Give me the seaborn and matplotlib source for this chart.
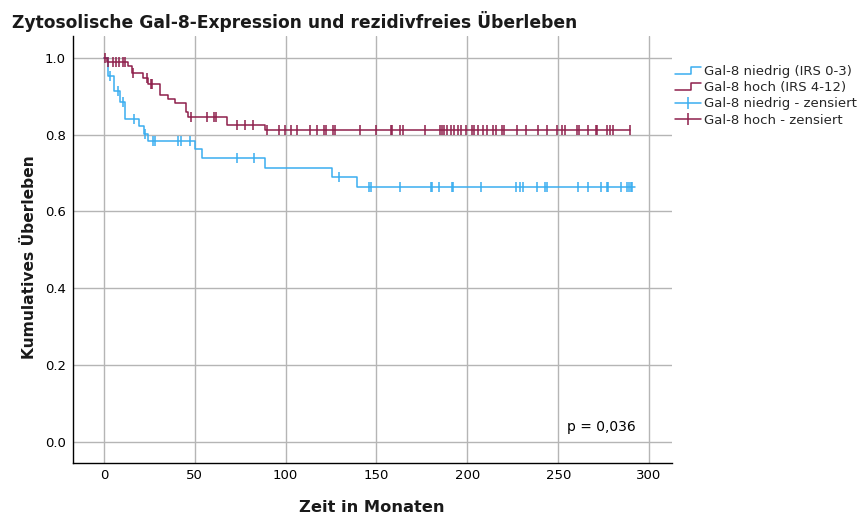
import numpy as np
import pandas as pd
import matplotlib
matplotlib.use("Agg")
import matplotlib.pyplot as plt
import seaborn as sns
from matplotlib.lines import Line2D
from matplotlib.legend_handler import HandlerBase

# ---- data ----
low_times = [0, 2.3, 5.5, 8.8, 11.6, 19.4, 22.2, 24.4, 50.1, 54.1, 88.6, 125.3, 139.0, 292.2]
low_surv = [1.0, 0.952, 0.915, 0.885, 0.841, 0.823, 0.802, 0.784, 0.762, 0.739, 0.713, 0.689, 0.663, 0.663]
low_cens = [3.3, 7.5, 10.6, 16.7, 22.8, 27.2, 28.1, 40.9, 42.4, 47.3, 73.0, 82.7, 129.3,
            146.0, 146.8, 163.0, 180.0, 180.7, 184.5, 191.7, 192.2, 207.5, 227.0, 229.0,
            230.8, 238.2, 242.7, 244.0, 260.7, 266.5, 273.5, 276.6, 277.5, 284.5, 287.6,
            288.9, 289.8, 290.4]

high_times = [0, 1.5, 13.0, 15.2, 21.6, 24.4, 30.8, 35.4, 39.4, 45.1, 46.4, 67.5, 88.6, 289.5]
high_surv = [1.0, 0.989, 0.980, 0.961, 0.948, 0.932, 0.904, 0.893, 0.882, 0.860, 0.847, 0.824, 0.811, 0.811]
high_cens = [0.5, 2.5, 5.1, 6.6, 8.3, 10.6, 11.6, 16.1, 23.5, 25.9, 26.7, 47.9, 56.5, 60.7,
             61.6, 73.0, 77.6, 81.8, 89.5, 96.5, 99.6, 102.7, 106.4, 113.4, 117.0, 121.2,
             122.2, 126.2, 127.1, 140.9, 149.7, 157.8, 158.4, 162.9, 164.4, 176.7, 184.9,
             185.8, 187.1, 189.0, 190.8, 192.6, 195.0, 196.6, 199.4, 202.4, 203.6, 206.0,
             208.7, 211.0, 214.3, 215.7, 218.9, 220.3, 227.1, 232.1, 239.0, 244.0, 249.1,
             251.9, 253.7, 260.2, 261.6, 266.5, 270.8, 271.5, 276.7, 278.5, 280.3, 289.5]

labels = ["Gal-8 niedrig (IRS 0-3)", "Gal-8 hoch (IRS 4-12)",
          "Gal-8 niedrig - zensiert", "Gal-8 hoch - zensiert"]
x_ticks = [0, 50, 100, 150, 200, 250, 300]
y_ticks = [0.0, 0.2, 0.4, 0.6, 0.8, 1.0]
title = "Zytosolische Gal-8-Expression und rezidivfreies Überleben"
x_label = "Zeit in Monaten"
y_label = "Kumulatives Überleben"
p_text = "p = 0,036"

BLUE = "#3aaef0"
RED = "#8e1f4b"

sns.set_theme(style="white")
plt.rcParams["font.family"] = ["DejaVu Sans"]

fig = plt.figure(figsize=(8.68, 5.18), dpi=100)
ax = fig.add_axes([73/868, 1-463/518, (672-73)/868, (463-36)/518])


def level_at(times, surv, t):
    idx = np.searchsorted(np.asarray(times), t, side="right") - 1
    return np.asarray(surv)[idx]


for times, surv, cens, col in [(low_times, low_surv, low_cens, BLUE),
                               (high_times, high_surv, high_cens, RED)]:
    df = pd.DataFrame({"t": times, "s": surv})
    sns.lineplot(data=df, x="t", y="s", drawstyle="steps-post", estimator=None,
                 color=col, lw=1.1, ax=ax, zorder=3)
    dc = pd.DataFrame({"t": cens, "s": [level_at(times, surv, c) for c in cens]})
    sns.lineplot(data=dc, x="t", y="s", estimator=None, sort=False, color=col,
                 linestyle="none", marker="|", markersize=6.5, markeredgewidth=1.1,
                 markeredgecolor=col, markerfacecolor=col, ax=ax, zorder=4)

ax.set_xlim(-17, 312.6)
ax.set_ylim(-0.055, 1.057)
ax.set_xticks(x_ticks)
ax.set_xticklabels([str(v) for v in x_ticks])
ax.set_yticks(y_ticks)
ax.set_yticklabels([f"{v:.1f}" for v in y_ticks])
ax.grid(True, color="#b5b5b5", lw=1)
ax.set_axisbelow(True)
ax.tick_params(axis="both", length=0, labelsize=9.5, colors="black")
ax.tick_params(axis="y", pad=5)
ax.tick_params(axis="x", pad=4)
for s in ["top", "right"]:
    ax.spines[s].set_visible(False)
for s in ["left", "bottom"]:
    ax.spines[s].set_color("black")
    ax.spines[s].set_linewidth(1.0)
ax.set_xlabel("")
ax.set_ylabel("")

ax.text(0.94, 0.084, p_text, transform=ax.transAxes, ha="right", va="center",
        fontsize=10, color="black")

fig.text(12/868, 1-22/518, title, ha="left", va="center", fontsize=12.3,
         fontweight="bold", color="#1a1a1a")
fig.text(372/868, 1-508/518, x_label, ha="center", va="center", fontsize=11.7,
         fontweight="bold", color="#1a1a1a")
fig.text(30/868, 1-257/518, y_label, ha="center", va="center", rotation=90,
         fontsize=11.2, fontweight="bold", color="#1a1a1a")


class StepHandler(HandlerBase):
    def create_artists(self, legend, orig_handle, xdescent, ydescent, width, height,
                       fontsize, trans):
        x0, y0 = -xdescent, -ydescent
        xs = [x0, x0 + 0.62 * width, x0 + 0.62 * width, x0 + width]
        ys = [y0 + 0.1 * height, y0 + 0.1 * height, y0 + 0.85 * height, y0 + 0.85 * height]
        ln = Line2D(xs, ys, color=orig_handle.get_color(), lw=1.1)
        ln.set_transform(trans)
        return [ln]


h1 = Line2D([], [], color=BLUE, lw=1.1)
h2 = Line2D([], [], color=RED, lw=1.1)
h3 = Line2D([], [], color=BLUE, lw=1.1, marker="|", markersize=9, markeredgewidth=1.1)
h4 = Line2D([], [], color=RED, lw=1.1, marker="|", markersize=9, markeredgewidth=1.1)
leg = fig.legend([h1, h2, h3, h4], labels, loc="upper left",
                 bbox_to_anchor=(672/868, 1-62/518), frameon=False, fontsize=9.5,
                 handlelength=2.0, handletextpad=0.2, labelspacing=0.25,
                 borderaxespad=0, borderpad=0.2,
                 handler_map={h1: StepHandler(), h2: StepHandler()})

fig.savefig("out.png", dpi=100)
